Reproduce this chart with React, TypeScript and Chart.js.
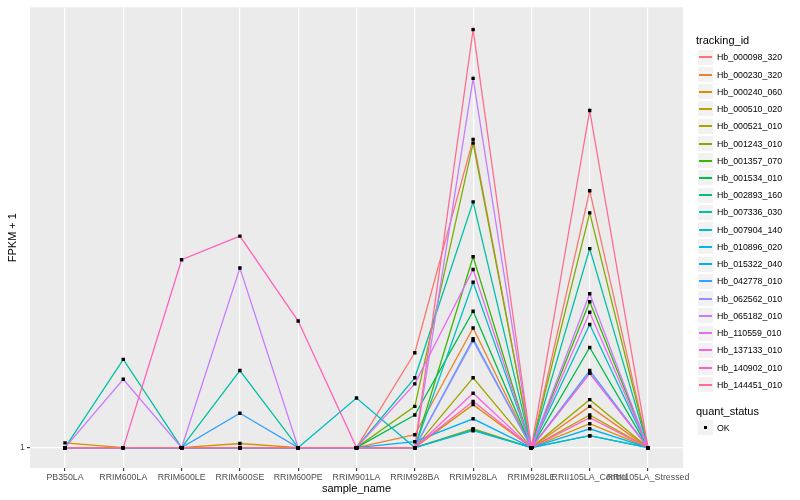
import React, { useEffect, useRef } from "react";
import { Chart, registerables } from "chart.js";

Chart.register(...registerables);

const categories = [
  "PB350LA",
  "RRIM600LA",
  "RRIM600LE",
  "RRIM600SE",
  "RRIM600PE",
  "RRIM901LA",
  "RRIM928BA",
  "RRIM928LA",
  "RRIM928LE",
  "RRII105LA_Control",
  "RRII105LA_Stressed",
];

const seriesNames = [
  "Hb_000098_320",
  "Hb_000230_320",
  "Hb_000240_060",
  "Hb_000510_020",
  "Hb_000521_010",
  "Hb_001243_010",
  "Hb_001357_070",
  "Hb_001534_010",
  "Hb_002893_160",
  "Hb_007336_030",
  "Hb_007904_140",
  "Hb_010896_020",
  "Hb_015322_040",
  "Hb_042778_010",
  "Hb_062562_010",
  "Hb_065182_010",
  "Hb_110559_010",
  "Hb_137133_010",
  "Hb_140902_010",
  "Hb_144451_010",
];

const seriesColors = [
  "#F8766D", "#EA8331", "#D89000", "#C09B00", "#A3A500",
  "#7CAE00", "#39B600", "#00BB4E", "#00BF7D", "#00C1A3",
  "#00BFC4", "#00BAE0", "#00B0F6", "#35A2FF", "#9590FF",
  "#C77CFF", "#E76BF3", "#FA62DB", "#FF62BC", "#FF6C91",
];

// FPKM + 1 per sample (order of categories)
const hb000098_320 = [1, 1, 1, 1, 1, 1, 1.58, 4.42, 1, 3.45, 1];
const hb000230_320 = [1, 1, 1, 1, 1, 1, 1.064, 1.78, 1, 1.22, 1];
const hb000240_060 = [1.023, 1, 1, 1.02, 1, 1, 1, 1.23, 1, 1.122, 1];
const hb000510_020 = [1, 1, 1, 1, 1, 1, 1, 1.095, 1, 1.17, 1];
const hb000521_010 = [1, 1, 1, 1, 1, 1, 1, 1.4, 1, 1.26, 1];
const hb001243_010 = [1, 1, 1, 1, 1, 1, 1.22, 4.34, 1, 3.1, 1];
const hb001357_070 = [1, 1, 1, 1, 1, 1, 1, 2.51, 1, 2.02, 1];
const hb001534_010 = [1, 1, 1, 1, 1, 1, 1.17, 1.93, 1, 1.62, 1];
const hb002893_160 = [1, 1, 1, 1, 1, 1, 1, 1.09, 1, 1.059, 1];
const hb007336_030 = [1, 1.53, 1, 1.45, 1, 1, 1.4, 3.27, 1, 2.61, 1];
const hb007904_140 = [1, 1, 1, 1, 1, 1.27, 1, 2.22, 1, 1.81, 1];
const hb010896_020 = [1, 1, 1, 1, 1, 1, 1, 1.085, 1, 1.059, 1];
const hb015322_040 = [1, 1, 1, 1, 1, 1, 1.029, 1.149, 1, 1.095, 1];
const hb042778_010 = [1, 1, 1, 1.18, 1, 1, 1, 1.69, 1, 1.45, 1];
const hb062562_010 = [1, 1, 1, 1, 1, 1, 1, 1.675, 1, 1.43, 1];
const hb065182_010 = [1, 1.39, 1, 2.377, 1, 1, 1, 5.93, 1, 2.1, 1];
const hb110559_010 = [1, 1, 1, 1, 1, 1, 1.36, 2.36, 1, 1.92, 1];
const hb137133_010 = [1, 1, 1, 1, 1, 1, 1, 1.3, 1, 1.43, 1];
const hb140902_010 = [1, 1, 2.474, 2.772, 1.841, 1, 1, 1.25, 1, 1.155, 1];
const hb144451_010 = [1, 1, 1, 1, 1, 1, 1, 7.5, 1, 5.08, 1];

const seriesValues = [
  hb000098_320, hb000230_320, hb000240_060, hb000510_020, hb000521_010,
  hb001243_010, hb001357_070, hb001534_010, hb002893_160, hb007336_030,
  hb007904_140, hb010896_020, hb015322_040, hb042778_010, hb062562_010,
  hb065182_010, hb110559_010, hb137133_010, hb140902_010, hb144451_010,
];

const yTickValues = [1];
const yTickLabels = ["1"];
const quantStatusLevels = ["OK"];

const FONT = "'Liberation Sans', Arial, Helvetica, sans-serif";

export default function App() {
  const ref = useRef<HTMLCanvasElement>(null);

  useEffect(() => {
    document.body.style.margin = "0";
    const canvas = ref.current;
    if (!canvas) return;

    const panelBg = {
      id: "panelBg",
      beforeDraw(chart: any) {
        const { ctx, chartArea } = chart;
        ctx.save();
        ctx.fillStyle = "#EBEBEB";
        ctx.fillRect(chartArea.left, chartArea.top, chartArea.width, chartArea.height);
        ctx.restore();
      },
    };

    const n = seriesValues.length;
    const lineSets: any[] = seriesValues.map((vals, i) => ({
      type: "line",
      label: seriesNames[i],
      data: vals.map((v, j) => ({ x: j, y: v })),
      borderColor: seriesColors[i],
      backgroundColor: seriesColors[i],
      borderWidth: 1.3,
      pointRadius: 0,
      pointHoverRadius: 0,
      tension: 0,
      fill: false,
      order: 1 + (n - 1 - i),
    }));

    const pointSet: any = {
      type: "line",
      label: quantStatusLevels[0],
      data: seriesValues.flatMap((vals) => vals.map((v, j) => ({ x: j, y: v }))),
      showLine: false,
      pointStyle: "rect",
      pointRadius: 2.4,
      pointHoverRadius: 2.4,
      pointBackgroundColor: "#000000",
      pointBorderColor: "#000000",
      pointBorderWidth: 0,
      borderWidth: 0,
      order: 0,
    };

    const chart = new Chart(canvas, {
      type: "line",
      data: { datasets: [...lineSets, pointSet] },
      options: {
        animation: false,
        responsive: false,
        events: [],
        layout: { padding: { left: 0, right: 117, top: 5, bottom: 0 } },
        plugins: {
          legend: { display: false },
          tooltip: { enabled: false },
        },
        scales: {
          x: {
            type: "linear",
            min: -0.6,
            max: 10.6,
            afterBuildTicks: (s: any) => {
              s.ticks = categories.map((_, i) => ({ value: i }));
            },
            afterFit: (s: any) => {
              s.height = 32;
            },
            ticks: {
              autoSkip: false,
              maxRotation: 0,
              minRotation: 0,
              padding: 1,
              color: "#4D4D4D",
              font: { family: FONT, size: 8.8 },
              callback: (v: any) => categories[Math.round(Number(v))] ?? "",
            },
            grid: {
              color: "#FFFFFF",
              lineWidth: 1.2,
              tickLength: 3,
              tickColor: "#333333",
              tickWidth: 1.1,
            },
            border: { display: false },
            title: {
              display: true,
              text: "sample_name",
              color: "#000000",
              font: { family: FONT, size: 11 },
              padding: { top: 0, bottom: 4 },
            },
          },
          y: {
            type: "logarithmic",
            min: 0.9064,
            max: 8.354,
            afterBuildTicks: (s: any) => {
              s.ticks = yTickValues.map((v) => ({ value: v }));
            },
            afterFit: (s: any) => {
              s.width = 30;
            },
            ticks: {
              color: "#4D4D4D",
              font: { family: FONT, size: 8.8 },
              padding: 2,
              major: { enabled: false },
              callback: (_v: any, i: number) => yTickLabels[i] ?? "",
            },
            grid: {
              color: "#FFFFFF",
              lineWidth: 1.2,
              tickLength: 3,
              tickColor: "#333333",
              tickWidth: 1.1,
            },
            border: { display: false },
            title: {
              display: true,
              text: "FPKM + 1",
              color: "#000000",
              font: { family: FONT, size: 11 },
              padding: { top: 6.5, bottom: 0 },
            },
          },
        },
      } as any,
      plugins: [panelBg],
    });

    return () => chart.destroy();
  }, []);

  const keyX = 697;
  const keySize = 17.24;
  const firstY = 57.3;

  return (
    <div
      style={{
        position: "fixed",
        left: 0,
        top: 0,
        width: 800,
        height: 500,
        background: "#FFFFFF",
        fontFamily: FONT,
        color: "#000000",
        overflow: "hidden",
      }}
    >
      <canvas ref={ref} width={800} height={500} style={{ display: "block", width: 800, height: 500 }} />
      <div style={{ position: "absolute", left: 696, top: 33.5, fontSize: 11, lineHeight: "13px", whiteSpace: "nowrap" }}>
        tracking_id
      </div>
      {seriesNames.map((name, i) => {
        const cy = firstY + keySize * i;
        const boxTop = Math.round(cy - keySize / 2);
        const lineTop = Math.round(cy) - 1;
        return (
          <React.Fragment key={name}>
            <div
              style={{
                position: "absolute",
                left: keyX,
                top: boxTop,
                width: 17,
                height: 17,
                background: "#F2F2F2",
                boxSizing: "border-box",
                border: "1px solid #FFFFFF",
              }}
            />
            <div
              style={{
                position: "absolute",
                left: keyX + 2,
                top: lineTop,
                width: 13,
                height: 1.5,
                background: seriesColors[i],
              }}
            />
            <div
              style={{
                position: "absolute",
                left: 717,
                top: cy - 6,
                fontSize: 8.8,
                lineHeight: "12px",
                whiteSpace: "nowrap",
              }}
            >
              {name}
            </div>
          </React.Fragment>
        );
      })}
      <div style={{ position: "absolute", left: 696, top: 404.5, fontSize: 11, lineHeight: "13px", whiteSpace: "nowrap" }}>
        quant_status
      </div>
      {quantStatusLevels.map((lvl, i) => {
        const cy = 427.5 + keySize * i;
        return (
          <React.Fragment key={lvl}>
            <div
              style={{
                position: "absolute",
                left: keyX,
                top: Math.round(cy - keySize / 2),
                width: 17,
                height: 17,
                background: "#F2F2F2",
                boxSizing: "border-box",
                border: "1px solid #FFFFFF",
              }}
            />
            <div
              style={{
                position: "absolute",
                left: keyX + 7,
                top: Math.round(cy) - 2,
                width: 3,
                height: 3,
                background: "#000000",
              }}
            />
            <div
              style={{
                position: "absolute",
                left: 717,
                top: cy - 6,
                fontSize: 8.8,
                lineHeight: "12px",
                whiteSpace: "nowrap",
              }}
            >
              {lvl}
            </div>
          </React.Fragment>
        );
      })}
    </div>
  );
}
